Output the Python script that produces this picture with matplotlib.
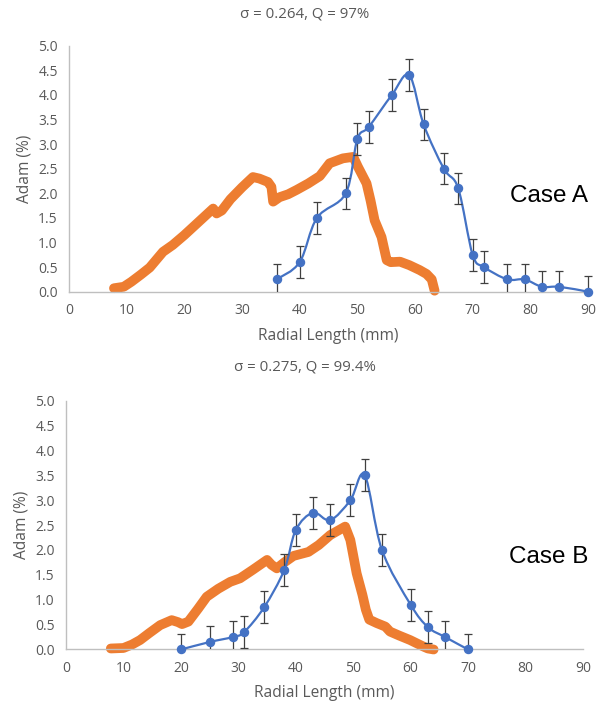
import numpy as np
import matplotlib.pyplot as plt
from matplotlib.path import Path
from matplotlib.patches import PathPatch
from matplotlib.transforms import Bbox, TransformedBbox

# ---- data ----
# Case A: measured profile (blue, with error bars)
a_x = [36, 40, 43, 48, 50, 52, 56, 59, 61.5, 65, 67.5, 70, 72, 76, 79, 82, 85, 90]
a_y = [0.25, 0.6, 1.5, 2.0, 3.1, 3.35, 4.0, 4.4, 3.4, 2.5, 2.1, 0.75, 0.5, 0.25, 0.25, 0.1, 0.1, 0.0]

# Case A: simulated profile (orange)
a_sim_x = [7.8, 9.5, 10.8, 12.5, 14.0, 16.3, 18.0, 20.0, 22.5, 25.0, 25.6, 26.5, 28.0,
           30.0, 31.9, 33.0, 34.5, 35.1, 35.4, 36.5, 38.0, 39.5, 41.5, 43.5, 45.2, 47.5,
           49.3, 50.1, 51.6, 52.3, 53.0, 54.2, 54.6, 55.1, 55.8, 57.4, 59.0, 60.8, 62.0,
           62.9, 63.4]
a_sim_y = [0.07, 0.1, 0.2, 0.35, 0.49, 0.81, 0.95, 1.15, 1.42, 1.69, 1.59, 1.65, 1.88,
           2.12, 2.33, 2.3, 2.23, 2.13, 1.83, 1.92, 1.98, 2.07, 2.2, 2.35, 2.61, 2.71,
           2.74, 2.54, 2.2, 1.85, 1.45, 1.11, 0.9, 0.64, 0.6, 0.61, 0.54, 0.44, 0.36,
           0.25, 0.02]

# Case B: measured profile
b_x = [20, 25, 29, 31, 34.5, 38, 40, 43, 46, 49.5, 52, 55, 60, 63, 66, 70]
b_y = [0.0, 0.15, 0.25, 0.35, 0.85, 1.6, 2.4, 2.75, 2.6, 3.0, 3.5, 2.0, 0.9, 0.45, 0.25, 0.0]

# Case B: simulated profile
b_sim_x = [7.8, 10.0, 11.5, 12.9, 14.5, 16.4, 18.4, 19.5, 20.2, 21.3, 23.0, 24.5, 26.5,
           28.6, 30.3, 32.5, 35.0, 35.8, 36.7, 38.0, 39.6, 42.2, 44.0, 46.0, 48.6, 49.5,
           50.6, 51.6, 52.2, 52.8, 54.1, 55.6, 56.4, 58.0, 59.9, 62.2, 63.0, 64.0]
b_sim_y = [0.02, 0.03, 0.1, 0.19, 0.33, 0.49, 0.59, 0.55, 0.51, 0.56, 0.82, 1.06, 1.22,
           1.36, 1.43, 1.6, 1.8, 1.7, 1.63, 1.75, 1.88, 1.96, 2.1, 2.3, 2.47, 2.2,
           1.53, 1.1, 0.8, 0.6, 0.53, 0.46, 0.36, 0.28, 0.19, 0.06, 0.02, 0.0]

err = 0.32
titles = ['σ = 0.264, Q = 97%', 'σ = 0.275, Q = 99.4%']
cases = ['Case A', 'Case B']
x_ticks = list(range(0, 100, 10))
y_ticks = [0.0, 0.5, 1.0, 1.5, 2.0, 2.5, 3.0, 3.5, 4.0, 4.5, 5.0]

blue = '#4472C4'
orange = '#ED7D31'
grey_txt = '#595959'
axis_col = '#BFBFBF'
font = ['Open Sans', 'DejaVu Sans']


def smooth_path(xs, ys, t=1 / 6):
    # excel-style smoothed line: catmull-rom segments as cubic beziers
    pts = np.column_stack([xs, ys]).astype(float)
    verts = [pts[0]]
    codes = [Path.MOVETO]
    n = len(pts)
    for i in range(n - 1):
        p0 = pts[max(i - 1, 0)]
        p1 = pts[i]
        p2 = pts[i + 1]
        p3 = pts[min(i + 2, n - 1)]
        c1 = p1 + (p2 - p0) * t
        c2 = p2 - (p3 - p1) * t
        verts += [c1, c2, p2]
        codes += [Path.CURVE4] * 3
    return Path(verts, codes)


fig = plt.figure(figsize=(6.10, 7.02), dpi=100)
boxes = [[0.1131, 0.5845, 0.8508, 0.3504], [0.1082, 0.0748, 0.8475, 0.3544]]
series = [(a_x, a_y, a_sim_x, a_sim_y), (b_x, b_y, b_sim_x, b_sim_y)]
title_y = [0.980, 0.477]
case_y = [196, 557]

for k in range(2):
    ax = fig.add_axes(boxes[k])
    mx, my, sx, sy = series[k]

    ax.plot(sx, sy, color=orange, lw=7, solid_capstyle='round',
            solid_joinstyle='round', zorder=2, clip_on=False)

    ax.add_patch(PathPatch(smooth_path(mx, my), facecolor='none', edgecolor=blue,
                           lw=1.6, zorder=3, clip_on=False))
    eb = ax.errorbar(mx, my, yerr=err, fmt='none', ecolor='#404040', elinewidth=0.9,
                     capsize=3, capthick=0.9, zorder=4)
    # clip error bars only at the x axis, not at the right edge
    clip = TransformedBbox(Bbox([[-5, 0], [95, 6]]), ax.transData)
    for art in list(eb.lines[1]) + list(eb.lines[2]):
        art.set_clip_box(clip)
    ax.plot(mx, my, 'o', color=blue, ms=5.8, zorder=5, clip_on=False)

    ax.set_xlim(0, 90)
    ax.set_ylim(0, 5)
    ax.set_xticks(x_ticks)
    ax.set_yticks(y_ticks)
    ax.set_yticklabels([f'{v:.1f}' for v in y_ticks])
    ax.tick_params(length=0, labelsize=10, labelcolor=grey_txt)
    ax.tick_params(axis='y', pad=8)
    ax.tick_params(axis='x', pad=8)
    for lab in ax.get_xticklabels() + ax.get_yticklabels():
        lab.set_family(font)
    for s in ['top', 'right']:
        ax.spines[s].set_visible(False)
    for s in ['left', 'bottom']:
        ax.spines[s].set_color(axis_col)
        ax.spines[s].set_linewidth(1.0)
    ax.set_xlabel('Radial Length (mm)', fontsize=11.2, color=grey_txt, family=font,
                  labelpad=7)
    ax.set_ylabel('Adam (%)', fontsize=11.2, color=grey_txt, family=font, labelpad=4)

    fig.text(0.5, title_y[k], titles[k], ha='center', va='center', fontsize=10.8,
             color=grey_txt, family=font)
    fig.text(549 / 610, 1 - case_y[k] / 702, cases[k], ha='center', va='center',
             fontsize=17.5, color='black', family=['Liberation Sans', 'DejaVu Sans'])

fig.savefig('out.png', dpi=100)
